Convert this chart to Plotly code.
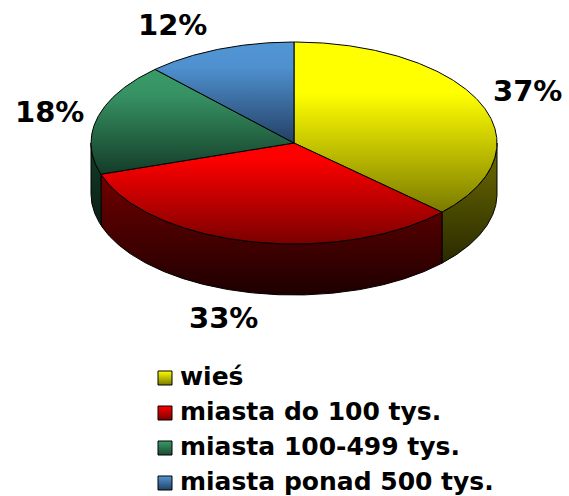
import numpy as np
import plotly.graph_objects as go

categories = ['wieś', 'miasta do 100 tys.', 'miasta 100-499 tys.', 'miasta ponad 500 tys.']
values = [37, 33, 18, 12]

# colours: top face gradient, side gradient, legend swatch
# y axis is reversed so position 1 of each scale is the top of the shape
top_colors = [
    [[0, '#7a7a00'], [0.7, '#ffff00'], [1, '#ffff00']],
    [[0, '#7a0000'], [0.85, '#ff0000'], [1, '#ff0000']],
    [[0, '#143c28'], [0.75, '#369162'], [1, '#3a9c68']],
    [[0, '#234064'], [0.75, '#4f90cf'], [1, '#5296d6']],
]
side_colors = [
    [[0, '#2a2a00'], [1, '#6e6e00']],
    [[0, '#1e0000'], [1, '#700000']],
    [[0, '#0a2014'], [1, '#143c28']],
    [[0, '#101c2c'], [1, '#234064']],
]
swatch_colors = ['#ffff00', '#ff0000', '#3a9c68', '#5296d6']
swatch_dark = ['#7a7a00', '#7a0000', '#174a30', '#234064']

# pie geometry in page pixels
cx, cy = 294, 143
rx, ry = 203, 101
depth = 51


def arc(a0, a1):
    t = np.radians(np.linspace(a0, a1, max(int(abs(a1 - a0)) * 2, 2)))
    return cx + rx * np.sin(t), cy - ry * np.cos(t)


fig = go.Figure()

edges = np.cumsum([0] + values) * 3.6

# sides first, only the front half of the rim shows
for i in range(len(values)):
    a0, a1 = max(edges[i], 90), min(edges[i + 1], 270)
    if a1 <= a0:
        continue
    x, y = arc(a0, a1)
    fig.add_trace(go.Scatter(
        x=np.r_[x, x[::-1], x[0]], y=np.r_[y, y[::-1] + depth, y[0]],
        mode='lines', fill='toself', showlegend=False, hoverinfo='skip',
        line=dict(color='black', width=1),
        fillgradient=dict(type='vertical', colorscale=side_colors[i]),
    ))

# top faces
for i in range(len(values)):
    x, y = arc(edges[i], edges[i + 1])
    fig.add_trace(go.Scatter(
        x=np.r_[cx, x, cx], y=np.r_[cy, y, cy],
        mode='lines', fill='toself', showlegend=False,
        name=categories[i], hoverinfo='name',
        line=dict(color='black', width=1),
        fillgradient=dict(type='vertical', colorscale=top_colors[i]),
    ))

# hand placed legend, the built in one can't get this tight
for i in range(len(values)):
    row = 378 + 35 * i
    fig.add_trace(go.Scatter(
        x=[165], y=[row], mode='markers', showlegend=False, name=categories[i], hoverinfo='name',
        marker=dict(symbol='square', size=14, color=swatch_colors[i],
                    gradient=dict(type='vertical', color=swatch_dark[i]),
                    line=dict(color='black', width=1)),
    ))
    fig.add_annotation(x=181, y=row, text=categories[i], showarrow=False, xanchor='left',
                       xshift=-2, yshift=2, borderpad=0,
                       font=dict(family='DejaVu Sans', size=25, color='black', weight='bold'))

label_x = [527, 223, 49, 172]
label_y = [91, 318, 112, 25]
for i in range(len(values)):
    fig.add_annotation(x=label_x[i], y=label_y[i], text=f'{values[i]}%', showarrow=False,
                       font=dict(family='DejaVu Sans', size=29, color='black', weight='bold'))

fig.update_layout(
    width=569, height=496,
    margin=dict(l=0, r=0, t=0, b=0, autoexpand=False),
    paper_bgcolor='white', plot_bgcolor='white',
    showlegend=False,
    xaxis=dict(visible=False, range=[0, 569], fixedrange=True),
    yaxis=dict(visible=False, range=[496, 0], fixedrange=True),
)

fig.write_html("out.html", config=dict(displayModeBar=False),
               post_script="document.body.style.margin='0';")
